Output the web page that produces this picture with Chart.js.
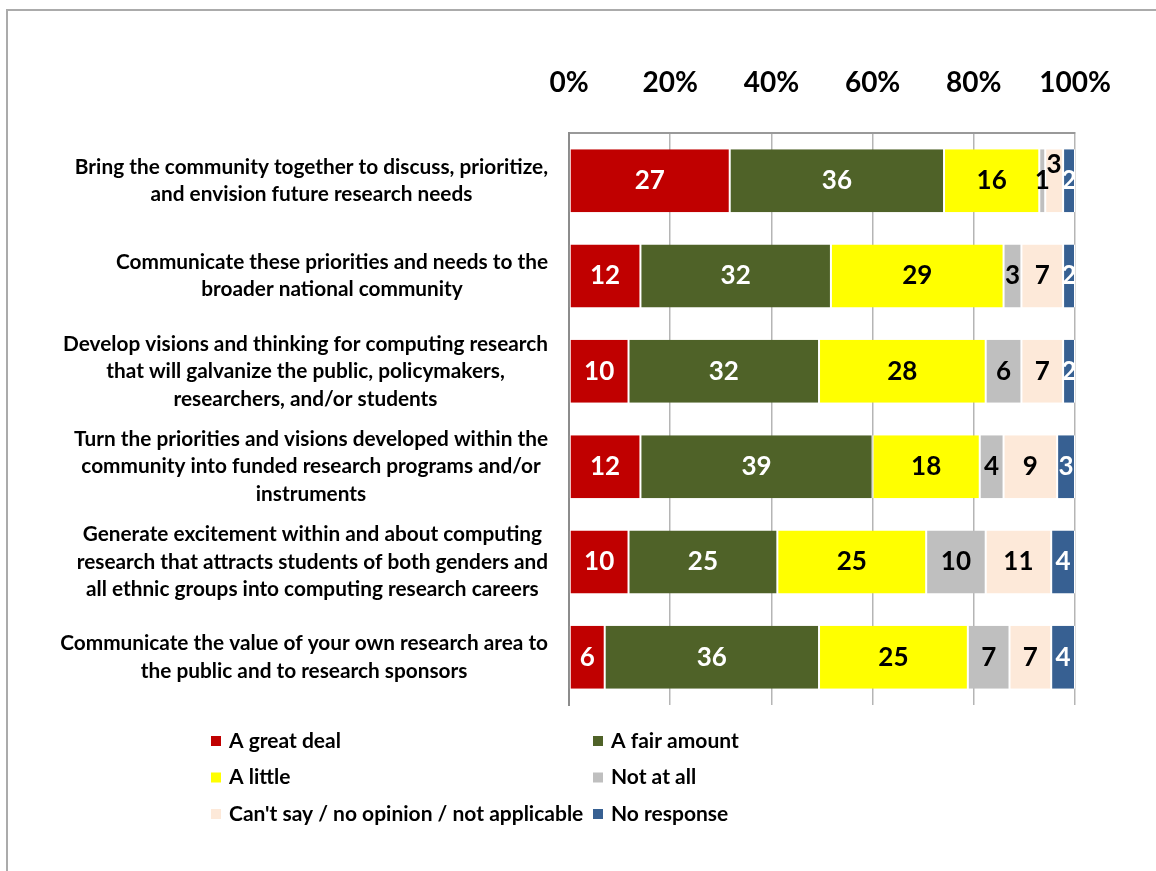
<!DOCTYPE html>
<html>
<head>
<meta charset="utf-8">
<script src="https://cdn.jsdelivr.net/npm/chart.js@4.4.0/dist/chart.umd.min.js"></script>
<style>
    html, body { margin: 0; padding: 0; background: #fff; }
    #frame {
        position: absolute; left: 6px; top: 9px; right: 0; bottom: 0;
        border-top: 2px solid #ababab; border-left: 2px solid #ababab;
    }
    #wrap { position: absolute; left: 0; top: 0; width: 1156px; height: 871px; }
</style>
</head>
<body>
<div id="frame"></div>
<div id="wrap"><canvas id="surveyChart"></canvas></div>
<script>
const categories = [
    ['Bring the community together to discuss, prioritize,', 'and envision future research needs'],
    ['Communicate these priorities and needs to the', 'broader national community'],
    ['Develop visions and thinking for computing research', 'that will galvanize the public, policymakers,', 'researchers, and/or students'],
    ['Turn the priorities and visions developed within the', 'community into funded research programs and/or', 'instruments'],
    ['Generate excitement within and about computing', 'research that attracts students of both genders and', 'all ethnic groups into computing research careers'],
    ['Communicate the value of your own research area to', 'the public and to research sponsors']
];

const seriesNames = ['A great deal', 'A fair amount', 'A little', 'Not at all',
    'Can\'t say / no opinion / not applicable', 'No response'];

const greatDeal = [27, 12, 10, 12, 10, 6];
const fairAmount = [36, 32, 32, 39, 25, 36];
const aLittle = [16, 29, 28, 18, 25, 25];
const notAtAll = [1, 3, 6, 4, 10, 7];
const cantSay = [3, 7, 7, 9, 11, 7];
const noResponse = [2, 2, 2, 3, 4, 4];

const tickValues = [0, 20, 40, 60, 80, 100];

const seriesColors = ['#C00000', '#4F6228', '#FFFF00', '#BFBFBF', '#FDE9D9', '#376092'];
const labelColors = ['#fff', '#fff', '#000', '#000', '#000', '#fff'];

const allSeries = [greatDeal, fairAmount, aLittle, notAtAll, cantSay, noResponse];
const rowTotals = categories.map((c, i) => allSeries.reduce((s, arr) => s + arr[i], 0));

const FONT = 'Lato, "Open Sans", sans-serif';

// value labels inside the segments (raw counts)
const valueLabels = {
    id: 'valueLabels',
    afterDatasetsDraw(chart) {
        const ctx = chart.ctx;
        const area = chart.chartArea;
        ctx.save();
        ctx.beginPath();
        ctx.rect(area.left, area.top, area.right - area.left, area.bottom - area.top);
        ctx.clip();
        ctx.font = 'bold 26px ' + FONT;
        ctx.textAlign = 'center';
        ctx.textBaseline = 'middle';
        categories.forEach((c, i) => {
            let prev = null;
            chart.data.datasets.forEach((ds, j) => {
                const bar = chart.getDatasetMeta(j).data[i];
                const txt = String(ds.raw[i]);
                const cx = (bar.x + bar.base) / 2;
                const w = ctx.measureText(txt).width;
                let cy = bar.y;
                let shifted = false;
                if (prev && !prev.shifted && cx - w / 2 < prev.right - 1) {
                    cy -= 16;
                    shifted = true;
                }
                ctx.fillStyle = labelColors[j];
                ctx.fillText(txt, cx, cy);
                prev = { right: cx + w / 2, shifted: shifted };
            });
        });
        ctx.restore();
    }
};

// category labels: block right aligned, lines centred within the block
const categoryLabels = {
    id: 'categoryLabels',
    afterDraw(chart) {
        const ctx = chart.ctx;
        const yScale = chart.scales.y;
        const lineH = 27.5;
        ctx.save();
        ctx.font = 'bold 20.8px ' + FONT;
        ctx.fillStyle = '#000';
        ctx.textAlign = 'center';
        ctx.textBaseline = 'middle';
        categories.forEach((lines, i) => {
            const yc = yScale.getPixelForValue(i);
            const widest = Math.max(...lines.map(l => ctx.measureText(l).width));
            const xc = 548 - widest / 2;
            const y0 = yc - (lines.length - 1) * lineH / 2;
            lines.forEach((l, k) => ctx.fillText(l, xc, y0 + k * lineH));
        });
        ctx.restore();
    }
};

// two-column legend under the plot
const gridLegend = {
    id: 'gridLegend',
    afterDraw(chart) {
        const ctx = chart.ctx;
        ctx.save();
        ctx.font = 'bold 21px ' + FONT;
        ctx.textBaseline = 'middle';
        ctx.textAlign = 'left';
        chart.data.datasets.forEach((ds, j) => {
            const col = j % 2;
            const row = Math.floor(j / 2);
            const x = col === 0 ? 211 : 593;
            const y = 741 + row * 36.5;
            ctx.fillStyle = ds.backgroundColor;
            ctx.fillRect(x, y - 5, 10, 10);
            ctx.fillStyle = '#000';
            ctx.fillText(ds.label, x + 18, y);
        });
        ctx.restore();
    }
};

const ctx = document.getElementById('surveyChart').getContext('2d');

new Chart(ctx, {
    type: 'bar',
    data: {
        labels: categories.map(c => c.join(' ')),
        datasets: allSeries.map((arr, j) => ({
            label: seriesNames[j],
            raw: arr,
            data: arr.map((v, i) => v / rowTotals[i] * 100),
            backgroundColor: seriesColors[j],
            borderColor: '#ffffff',
            borderWidth: { left: 1, right: 1, top: 0, bottom: 0 },
            borderSkipped: false,
            barPercentage: 0.66,
            categoryPercentage: 1
        }))
    },
    options: {
        indexAxis: 'y',
        responsive: true,
        maintainAspectRatio: false,
        animation: false,
        layout: { padding: { left: 0, top: 0, right: 81, bottom: 166 } },
        plugins: {
            legend: { display: false },
            tooltip: { enabled: false }
        },
        scales: {
            x: {
                position: 'top',
                stacked: true,
                min: 0,
                max: 100,
                afterBuildTicks: (scale) => { scale.ticks = tickValues.map(v => ({ value: v })); },
                afterFit: (scale) => { scale.height = 133; },
                ticks: {
                    callback: (v) => v + '%',
                    color: '#000',
                    padding: 33,
                    maxRotation: 0,
                    font: { family: FONT, size: 28, weight: 'bold' }
                },
                grid: { color: '#b5b5b5', lineWidth: 1.5, drawTicks: false },
                border: { display: true, color: '#999', width: 2 }
            },
            y: {
                stacked: true,
                afterFit: (scale) => { scale.width = 569; },
                ticks: { display: false },
                grid: { display: false, drawTicks: false },
                border: { display: true, color: '#8c8c8c', width: 2 }
            }
        }
    },
    plugins: [valueLabels, categoryLabels, gridLegend]
});
</script>
</body>
</html>
